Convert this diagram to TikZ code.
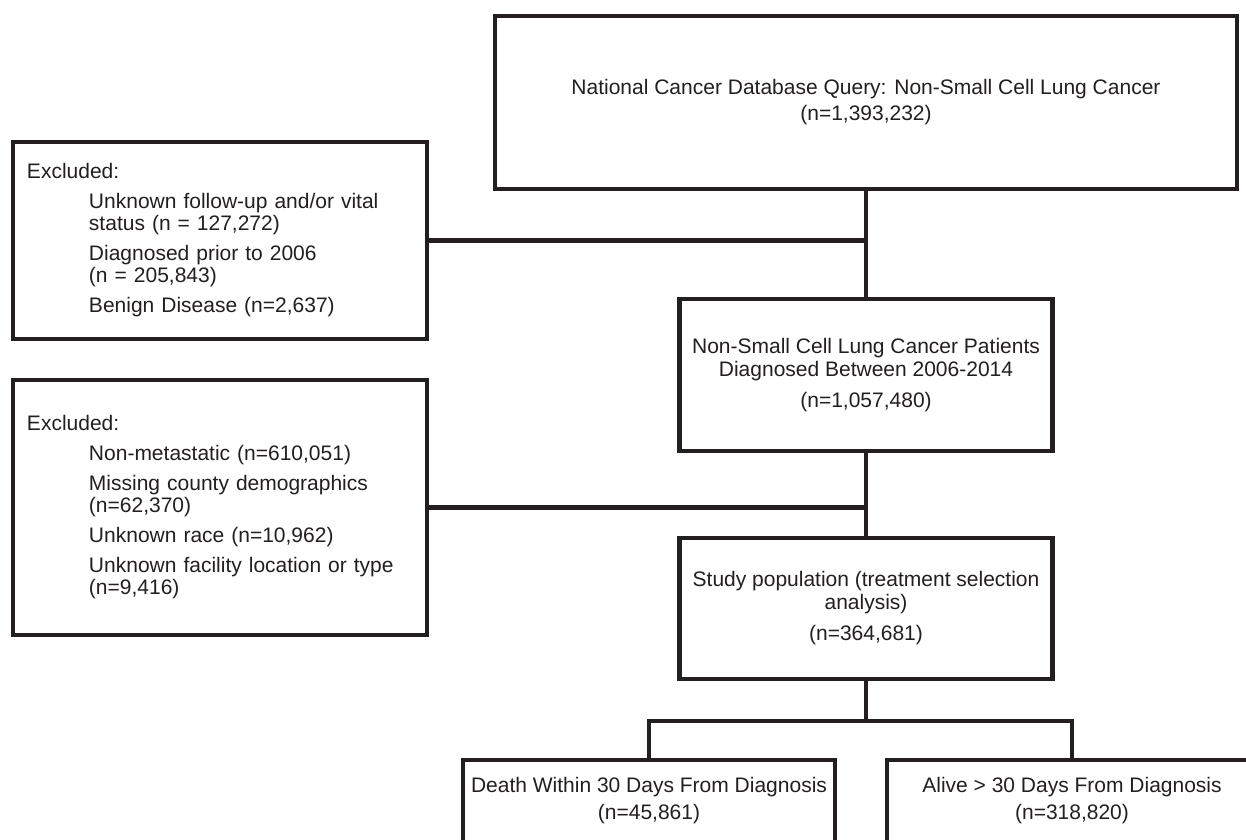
\documentclass[tikz,border=0pt]{standalone}
\usepackage{fontspec}
\setmainfont{Liberation Sans}
\definecolor{ink}{RGB}{35,31,32}
\begin{document}
\begin{tikzpicture}[x=1pt,y=-1pt,
  box/.style={draw=ink, line width=4.5pt, text=ink, inner sep=0pt, align=center,
    font=\fontsize{21}{23}\selectfont},
  exbox/.style={draw=ink, line width=4.5pt, text=ink, inner xsep=14pt, inner ysep=0pt,
    text width=386pt, align=left, font=\fontsize{21}{22}\selectfont},
  link/.style={draw=ink, line width=4.5pt}]
\useasboundingbox (0,0) rectangle (1246,839);
\clip (0,0) rectangle (1246,839);
\fill[white] (0,0) rectangle (1246,839);

\node[box, minimum width=742pt, minimum height=173pt] (top) at (866,102.5)
  {National Cancer Database Query: Non-Small Cell Lung Cancer\\[3pt](n=1,393,232)};
\node[exbox, minimum height=197pt] (ex1) at (220,240.5)
  {Excluded:\\[8pt]
   \hspace*{62pt}Unknown follow-up and/or vital\\
   \hspace*{62pt}status (n = 127,272)\\[8pt]
   \hspace*{62pt}Diagnosed prior to 2006\\
   \hspace*{62pt}(n = 205,843)\\[8pt]
   \hspace*{62pt}Benign Disease (n=2,637)};
\node[box, minimum width=373pt, minimum height=152pt] (mid) at (866,375)
  {Non-Small Cell Lung Cancer Patients\\Diagnosed Between 2006-2014\\[8pt](n=1,057,480)};
\node[exbox, minimum height=255pt] (ex2) at (220,507.5)
  {Excluded:\\[8pt]
   \hspace*{62pt}Non-metastatic (n=610,051)\\[8pt]
   \hspace*{62pt}Missing county demographics\\
   \hspace*{62pt}(n=62,370)\\[8pt]
   \hspace*{62pt}Unknown race (n=10,962)\\[8pt]
   \hspace*{62pt}Unknown facility location or type\\
   \hspace*{62pt}(n=9,416)};
\node[box, minimum width=373pt, minimum height=141pt] (pop) at (866,608.5)
  {Study population (treatment selection\\analysis)\\[8pt](n=364,681)};
\node[box, minimum width=372pt, minimum height=82pt] (death) at (649,801)
  {Death Within 30 Days From Diagnosis\\[4pt](n=45,861)};
\node[box, minimum width=370pt, minimum height=82pt] (alive) at (1072,801)
  {Alive > 30 Days From Diagnosis\\[4pt](n=318,820)};
\coordinate (split) at (866,721);

\draw[link] (top.south) -- (top.south |- mid.north);
\draw[link] (ex1.east) -- (ex1.east -| top.south);
\draw[link] (mid.south) -- (pop.north);
\draw[link] (ex2.east) -- (ex2.east -| mid.south);
\draw[link] (pop.south) -- (split);
\draw[link] (death.north) -- (death.north |- split) -- (alive.north |- split) -- (alive.north);
\end{tikzpicture}
\end{document}
